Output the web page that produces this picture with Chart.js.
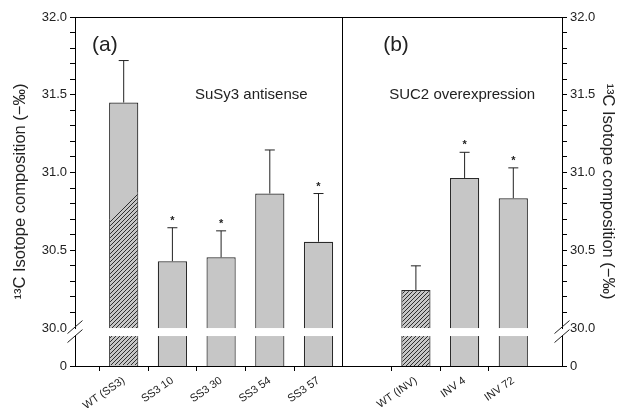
<!DOCTYPE html>
<html>
<head>
<meta charset="utf-8">
<script src="https://cdn.jsdelivr.net/npm/chart.js@4.4.1/dist/chart.umd.min.js"></script>
<style>
  html, body { margin: 0; padding: 0; background: #fff; }
</style>
</head>
<body>
<canvas id="chart" width="620" height="408"></canvas>
<script>
// panel (a): SuSy3 antisense
const labelsA = ['WT (SS3)', 'SS3 10', 'SS3 30', 'SS3 54', 'SS3 57'];
const meansA = [31.45, 30.43, 30.455, 30.865, 30.555];
const errTopA = [31.72, 30.645, 30.625, 31.145, 30.865];
const starsA = [false, true, true, false, true];
// panel (b): SUC2 overexpression
const labelsB = ['WT (INV)', 'INV 4', 'INV 72'];
const meansB = [30.245, 30.965, 30.835];
const errTopB = [30.40, 31.13, 31.03];
const starsB = [false, true, true];
// hatched lower part of WT (SS3), value at left and right edge
const hatchEdgeA = [30.70, 30.875];
// y axis: "0" sits just under the break, then 30.0 .. 32.0
const zeroAt = 29.756;
const yTicks = [30.0, 30.1, 30.2, 30.3, 30.4, 30.5, 30.6, 30.7, 30.8, 30.9, 31.0,
                31.1, 31.2, 31.3, 31.4, 31.5, 31.6, 31.7, 31.8, 31.9, 32.0];
const yBreakValue = 30.0;

// one empty slot each side and one between the panels (the divider)
const labels = ['', ...labelsA, '', ...labelsB, ''];
const means = [null, ...meansA, null, ...meansB, null];
const errTop = [null, ...errTopA, null, ...errTopB, null];
const stars = [false, ...starsA, false, ...starsB, false];
const dividerIndex = labelsA.length + 1;

const FONT = "'Liberation Sans', Arial, Helvetica, sans-serif";
const gray = '#c6c6c6';
const ink = '#222';

function makeHatch() {
    const c = document.createElement('canvas');
    c.width = 4; c.height = 4;
    const g = c.getContext('2d');
    g.fillStyle = gray;
    g.fillRect(0, 0, 4, 4);
    g.strokeStyle = '#2e2e2e';
    g.lineWidth = 1;
    g.beginPath();
    g.moveTo(0, 4); g.lineTo(4, 0);
    g.moveTo(-1, 1); g.lineTo(1, -1);
    g.moveTo(3, 5); g.lineTo(5, 3);
    g.stroke();
    return g.createPattern(c, 'repeat');
}
const hatch = makeHatch();

const colors = labels.map(l => l === 'WT (INV)' ? hatch : gray);

const tickLabel = v => {
    if (Math.abs(v - zeroAt) < 1e-6) return '0';
    return Math.round(v * 10) % 5 === 0 ? v.toFixed(1) : '';
};

const yAxis = (position, titlePad, width) => ({
    type: 'linear',
    position: position,
    min: zeroAt,
    max: 32,
    afterBuildTicks: s => { s.ticks = [zeroAt, ...yTicks].map(v => ({ value: v })); },
    afterFit: s => { s.width = width; },
    ticks: {
        autoSkip: false,
        callback: tickLabel,
        font: { family: FONT, size: 13 },
        color: ink,
        padding: 3
    },
    grid: {
        drawOnChartArea: false,
        tickLength: 5,
        tickColor: c => (c.tick && Math.abs(c.tick.value - yBreakValue) < 1e-6) ? 'rgba(0,0,0,0)' : '#000'
    },
    border: { display: true, color: '#000', width: 1 },
    title: {
        display: true,
        text: '¹³C Isotope composition (−‰)',
        font: { family: FONT, size: 16.5 },
        color: ink,
        padding: { top: titlePad, bottom: 0 }
    }
});

const overlay = {
    id: 'overlay',
    afterDatasetsDraw(chart) {
        const { ctx, scales: { y } } = chart;
        const meta = chart.getDatasetMeta(0);
        const yBreak = y.getPixelForValue(yBreakValue);
        const yBase = y.getPixelForValue(zeroAt);

        // partly hatched WT (SS3) bar
        const wt = meta.data[1];
        const l = wt.x - wt.width / 2 + 1, r = wt.x + wt.width / 2 - 1;
        ctx.save();
        ctx.beginPath();
        ctx.moveTo(l, y.getPixelForValue(hatchEdgeA[0]));
        ctx.lineTo(r, y.getPixelForValue(hatchEdgeA[1]));
        ctx.lineTo(r, yBase - 1);
        ctx.lineTo(l, yBase - 1);
        ctx.closePath();
        ctx.fillStyle = hatch;
        ctx.fill();
        ctx.restore();

        // error bars and significance stars
        ctx.save();
        ctx.strokeStyle = ink;
        ctx.lineWidth = 1;
        meta.data.forEach((bar, i) => {
            if (errTop[i] == null) return;
            const yt = y.getPixelForValue(errTop[i]);
            ctx.beginPath();
            ctx.moveTo(bar.x, bar.y);
            ctx.lineTo(bar.x, yt);
            ctx.moveTo(bar.x - 5, yt);
            ctx.lineTo(bar.x + 5, yt);
            ctx.stroke();
            if (stars[i]) {
                ctx.fillStyle = ink;
                ctx.font = 'bold 11px ' + FONT;
                ctx.textAlign = 'center';
                ctx.textBaseline = 'middle';
                ctx.fillText('*', bar.x, yt - 7);
            }
        });

        // axis break cut through the bars
        ctx.fillStyle = '#fff';
        meta.data.forEach((bar, i) => {
            if (means[i] == null) return;
            ctx.fillRect(bar.x - bar.width / 2 - 2, yBreak, bar.width + 4, 8);
        });
        ctx.restore();
    },
    afterDraw(chart) {
        const { ctx, chartArea, scales: { x, y } } = chart;
        const yBreak = y.getPixelForValue(yBreakValue);
        ctx.save();
        // top frame line
        ctx.strokeStyle = '#000';
        ctx.lineWidth = 1;
        ctx.beginPath();
        ctx.moveTo(chartArea.left, Math.round(chartArea.top) + 0.5);
        ctx.lineTo(chartArea.right, Math.round(chartArea.top) + 0.5);
        ctx.stroke();

        // break marks on both axes
        [chartArea.left, chartArea.right].forEach(ax => {
            ctx.fillStyle = '#fff';
            ctx.fillRect(ax - 2, yBreak + 1, 4, 6);
            ctx.strokeStyle = ink;
            ctx.beginPath();
            ctx.moveTo(ax - 7.5, yBreak - 1 + 6.5);
            ctx.lineTo(ax + 7.5, yBreak - 1 - 6.5);
            ctx.moveTo(ax - 7.5, yBreak + 8 + 6.5);
            ctx.lineTo(ax + 7.5, yBreak + 8 - 6.5);
            ctx.stroke();
        });

        // panel labels
        const divX = x.getPixelForValue(dividerIndex);
        ctx.fillStyle = ink;
        ctx.textBaseline = 'middle';
        ctx.textAlign = 'left';
        ctx.font = '21px ' + FONT;
        ctx.fillText('(a)', chartArea.left + 17, 45);
        ctx.fillText('(b)', divX + 16, 45);
        ctx.font = '15px ' + FONT;
        ctx.fillText('SuSy3 antisense', chartArea.left + 120, 95);
        ctx.fillText('SUC2 overexpression', divX + 22, 95);
        ctx.restore();
    }
};

new Chart(document.getElementById('chart'), {
    type: 'bar',
    data: {
        labels: labels,
        datasets: [{
            data: means,
            backgroundColor: colors,
            borderColor: '#2a2a2a',
            borderWidth: 1.2,
            barPercentage: 0.6,
            categoryPercentage: 1,
            yAxisID: 'y'
        }]
    },
    options: {
        responsive: false,
        animation: false,
        devicePixelRatio: 1,
        layout: { padding: { top: 17, left: 0, right: 0, bottom: 0 } },
        plugins: { legend: { display: false }, tooltip: { enabled: false } },
        scales: {
            x: {
                type: 'category',
                offset: false,
                afterFit: s => { s.height = 42; },
                border: { display: true, color: '#000', width: 1 },
                grid: {
                    drawOnChartArea: true,
                    lineWidth: 1,
                    color: c => c.index === dividerIndex ? '#000' : 'rgba(0,0,0,0)',
                    tickColor: c => labels[c.index] ? '#000' : 'rgba(0,0,0,0)',
                    tickLength: 5
                },
                ticks: {
                    autoSkip: false,
                    maxRotation: 35,
                    minRotation: 35,
                    font: { family: FONT, size: 11 },
                    color: ink,
                    padding: 3
                }
            },
            y: yAxis('left', 11, 75),
            y2: yAxis('right', 3, 58)
        }
    },
    plugins: [overlay]
});
</script>
</body>
</html>
